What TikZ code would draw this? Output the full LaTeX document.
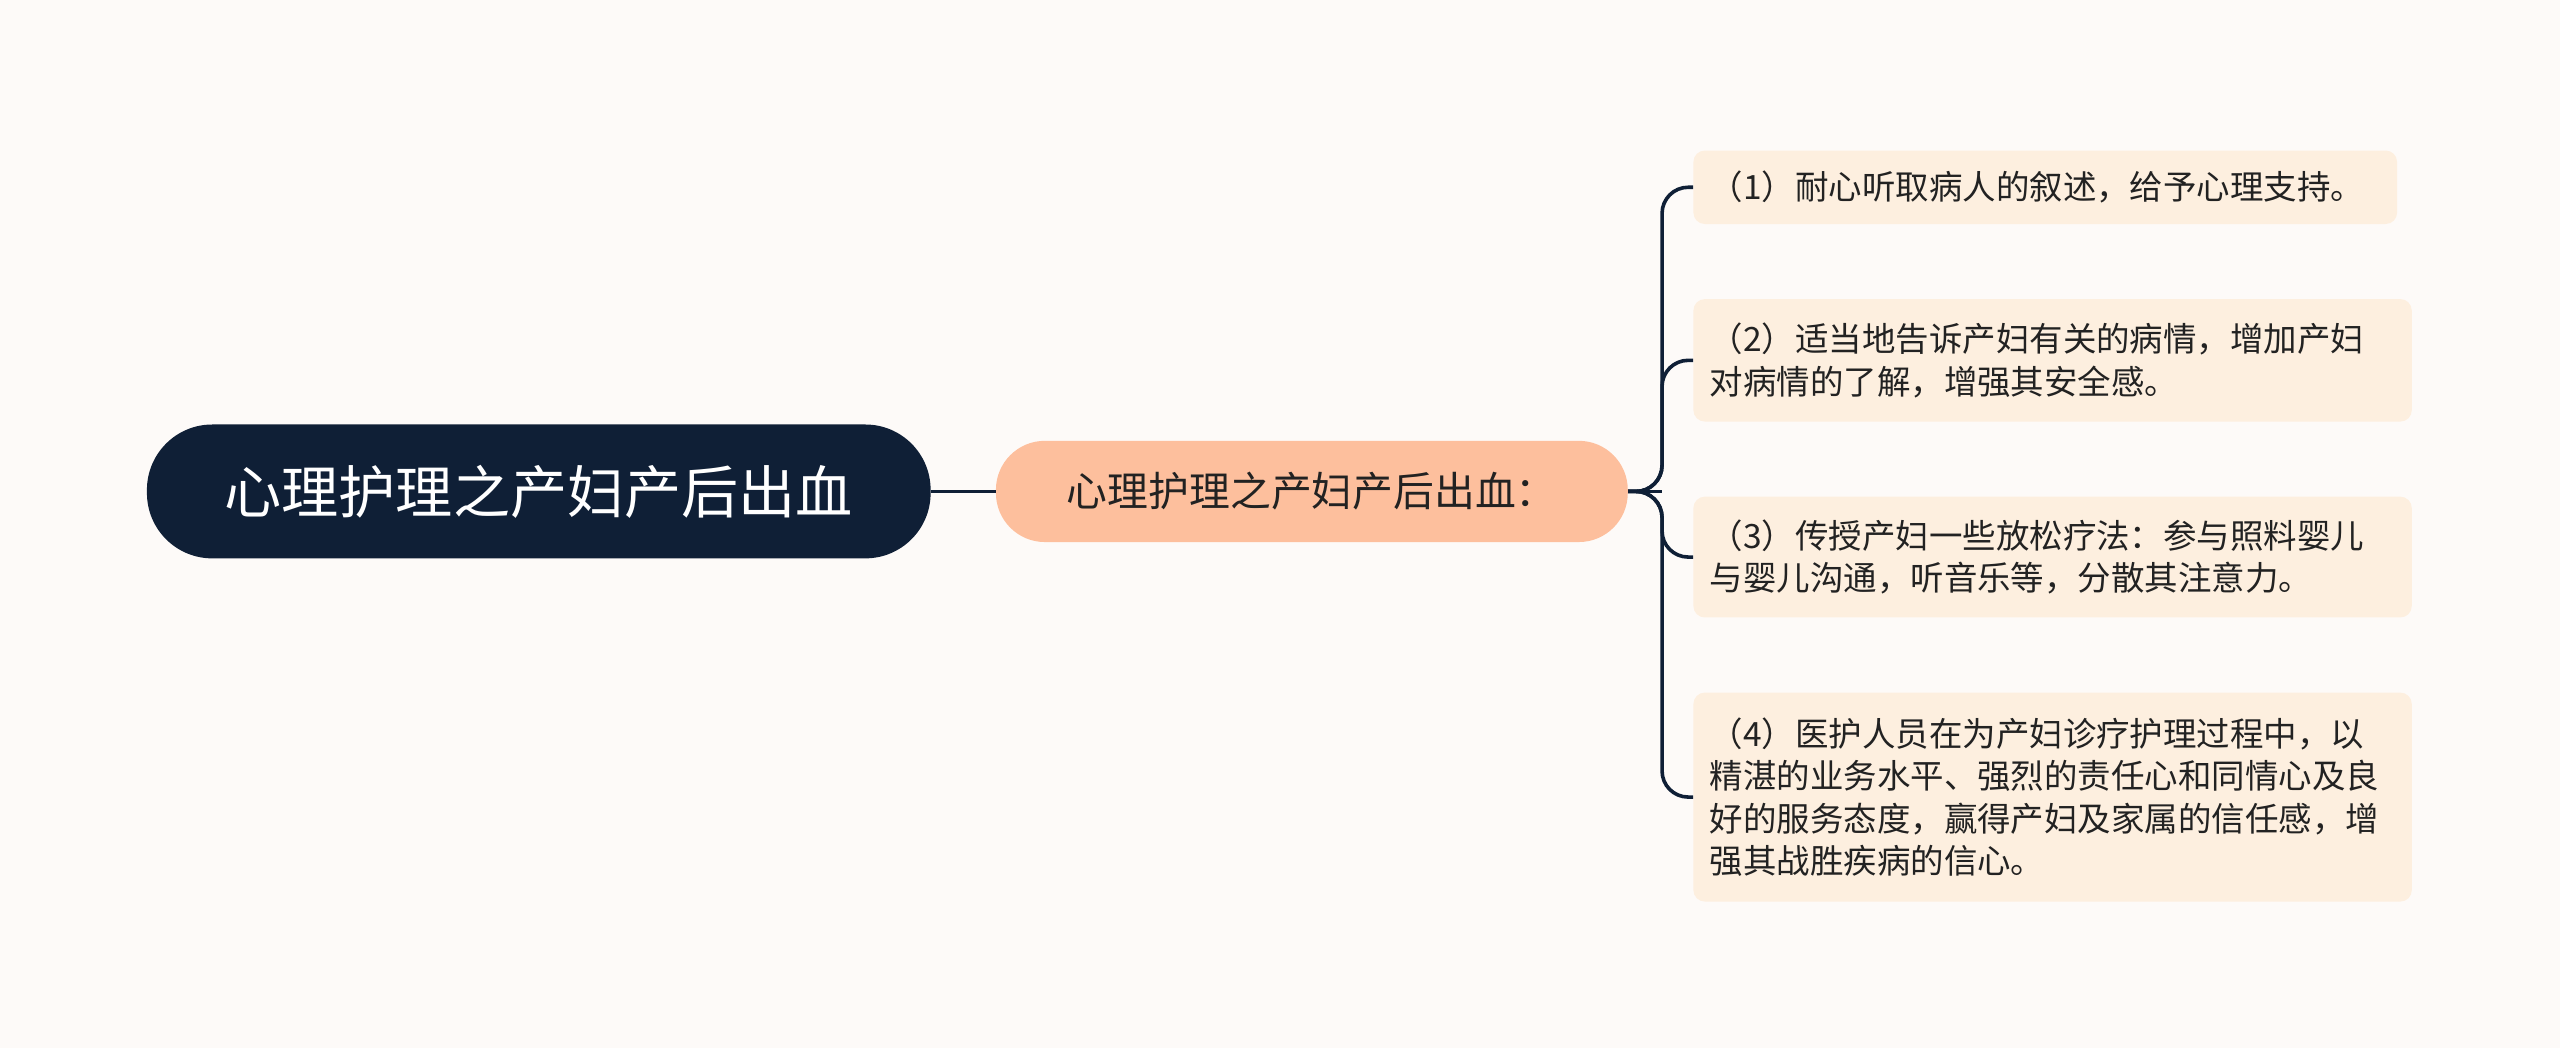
\documentclass[tikz,border=0pt]{standalone}
\usepackage{fontspec}
\setmainfont{Noto Sans CJK SC}
\begin{document}
\begin{tikzpicture}[x=1pt,y=-1pt,
  rootbox/.style={fill=root,rounded corners=40pt,text=white,minimum width=480pt,minimum height=82pt,font=\fontsize{35}{40}\selectfont},
  midbox/.style={fill=mid,rounded corners=30pt,text=txt,minimum width=387pt,minimum height=62pt,font=\fontsize{25}{30}\selectfont},
  leaf/.style={fill=leafc,rounded corners=7pt,text=txt,anchor=north west,align=left,inner xsep=10pt,inner ysep=8pt,font=\fontsize{20.5}{26}\selectfont},
  conn/.style={draw=root,line width=2.2pt}]
\definecolor{root}{HTML}{0F1F36}
\definecolor{mid}{HTML}{FDBF9D}
\definecolor{leafc}{HTML}{FDEFDF}
\definecolor{txt}{HTML}{222222}
\definecolor{bg}{HTML}{FDFAF8}
\fill[bg] (0,0) rectangle (1568,642);
\useasboundingbox (0,0) rectangle (1568,642);
\node[rootbox] (r) at (330,301) {心理护理之产妇产后出血};
\node[midbox] (m) at (803.5,301) {心理护理之产妇产后出血：};
\node[leaf,minimum height=45pt,minimum width=431pt,text width=411pt] (c1) at (1037,92) {（1）耐心听取病人的叙述，给予心理支持。};
\node[leaf,minimum height=75pt,minimum width=440pt,text width=420pt] (c2) at (1037,183) {（2）适当地告诉产妇有关的病情，增加产妇\\对病情的了解，增强其安全感。};
\node[leaf,minimum height=74pt,minimum width=440pt,text width=420pt] (c3) at (1037,304) {（3）传授产妇一些放松疗法：参与照料婴儿\\与婴儿沟通，听音乐等，分散其注意力。};
\node[leaf,minimum height=128pt,minimum width=440pt,text width=420pt] (c4) at (1037,424) {（4）医护人员在为产妇诊疗护理过程中，以\\精湛的业务水平、强烈的责任心和同情心及良\\好的服务态度，赢得产妇及家属的信任感，增\\强其战胜疾病的信心。};
\coordinate (j) at (1018,301);
\draw[conn] (r.east) -- (m.west);
\draw[conn] (m.east) -- (j);
\foreach \c in {c1,c2,c3,c4}
  \draw[conn,rounded corners=16pt] (m.east) -- (j) |- (\c.west);
\end{tikzpicture}
\end{document}
